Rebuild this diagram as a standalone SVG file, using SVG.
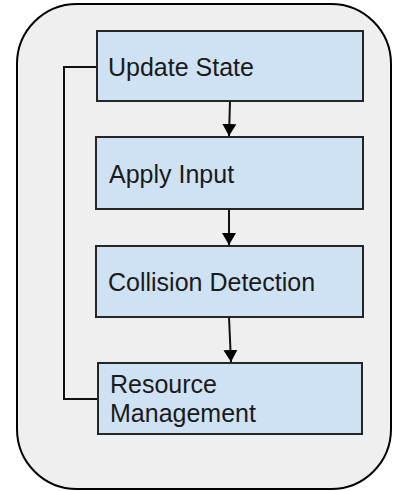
<svg xmlns="http://www.w3.org/2000/svg" width="393" height="491" viewBox="0 0 393 491">
  <style>
    .frame { fill: #efefef; stroke: #000; stroke-width: 2; }
    .box { fill: #cfe2f3; stroke: #262626; stroke-width: 2; }
    .label { font-family: "Liberation Sans", Arial, sans-serif; font-size: 25px; fill: #1a1a1a; }
    .link { fill: none; stroke: #111; stroke-width: 2; }
  </style>
  <defs>
    <marker id="head" viewBox="0 0 12 16" refX="12" refY="8" markerWidth="12" markerHeight="16" markerUnits="userSpaceOnUse" orient="auto">
      <path d="M0,1 L12,8 L0,15 Z" fill="#000"/>
    </marker>
  </defs>

  <rect width="393" height="491" fill="#fff"/>
  <rect id="loop-frame" class="frame" x="17" y="4" width="374" height="485" rx="60" ry="60"/>

  <g id="connectors">
    <line class="link" x1="230" y1="101" x2="229" y2="136" marker-end="url(#head)"/>
    <line class="link" x1="229" y1="209" x2="229" y2="245" marker-end="url(#head)"/>
    <line class="link" x1="229" y1="317" x2="231" y2="362" marker-end="url(#head)"/>
    <polyline class="link" points="97,67 64,67 64,399 98,399"/>
  </g>

  <g id="update-state">
    <rect class="box" x="97" y="31" width="266" height="70"/>
    <text class="label" x="108" y="76">Update State</text>
  </g>

  <g id="apply-input">
    <rect class="box" x="96" y="137" width="267" height="72"/>
    <text class="label" x="109" y="183">Apply Input</text>
  </g>

  <g id="collision-detection">
    <rect class="box" x="96" y="246" width="267" height="71"/>
    <text class="label" x="108" y="291">Collision Detection</text>
  </g>

  <g id="resource-management">
    <rect class="box" x="98" y="363" width="264" height="71"/>
    <text class="label" x="110" y="393">Resource</text>
    <text class="label" x="110" y="422">Management</text>
  </g>
</svg>
